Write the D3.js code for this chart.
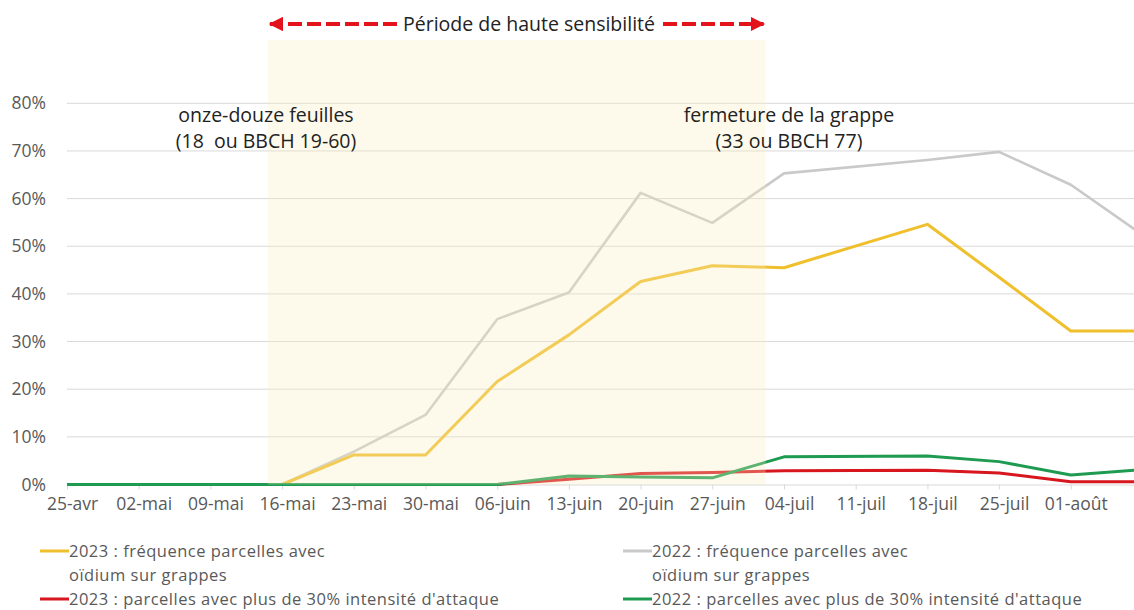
<!DOCTYPE html>
<html lang="fr">
<head>
<meta charset="UTF-8" />
<title>Oïdium sur grappes</title>
<script src="https://cdn.jsdelivr.net/npm/d3@7"></script>
<style>
    body { margin: 0; background: #fff; }
    svg { display: block; font-family: "Open Sans", Lato, sans-serif; }
</style>
</head>
<body>
<svg id="chart" width="1134" height="610"></svg>
<script>
    // dates de relevé (pas de relevé le 11-juil)
    const dates = ['2023-04-25', '2023-05-02', '2023-05-09', '2023-05-16', '2023-05-23', '2023-05-30',
        '2023-06-06', '2023-06-13', '2023-06-20', '2023-06-27', '2023-07-04', '2023-07-18',
        '2023-07-25', '2023-08-01', '2023-08-08'];
    const freq2023 = [0, 0, 0, 0, 6.2, 6.2, 21.6, 31.4, 42.6, 45.9, 45.5, 54.6, 43.5, 32.2, 32.2];
    const freq2022 = [0, 0, 0, 0, 6.9, 14.6, 34.7, 40.3, 61.2, 54.9, 65.3, 68.1, 69.8, 62.9, 52.4];
    const intens2023 = [0, 0, 0, 0, 0, 0, 0, 1.1, 2.3, 2.5, 2.9, 3.0, 2.4, 0.6, 0.6];
    const intens2022 = [0, 0, 0, 0, 0, 0, 0, 1.8, 1.6, 1.4, 5.8, 6.0, 4.8, 2.0, 3.1];

    const tickDates = ['2023-04-25', '2023-05-02', '2023-05-09', '2023-05-16', '2023-05-23', '2023-05-30',
        '2023-06-06', '2023-06-13', '2023-06-20', '2023-06-27', '2023-07-04', '2023-07-11',
        '2023-07-18', '2023-07-25', '2023-08-01'];
    const tickLabels = ['25-avr', '02-mai', '09-mai', '16-mai', '23-mai', '30-mai', '06-juin', '13-juin',
        '20-juin', '27-juin', '04-juil', '11-juil', '18-juil', '25-juil', '01-août'];
    const yTicks = [0, 10, 20, 30, 40, 50, 60, 70, 80];

    // période de haute sensibilité
    const sensStart = new Date(2023, 4, 14, 15);
    const sensEnd = new Date(2023, 6, 2, 5);

    const series = [
        { name: ['2022 : fréquence parcelles avec', 'oïdium sur grappes'], values: freq2022, color: '#c9c9c9', w: 2.6 },
        { name: ['2023 : fréquence parcelles avec', 'oïdium sur grappes'], values: freq2023, color: '#f0bf2c', w: 3 },
        { name: ["2023 : parcelles avec plus de 30% intensité d'attaque"], values: intens2023, color: '#d7161e', w: 3 },
        { name: ["2022 : parcelles avec plus de 30% intensité d'attaque"], values: intens2022, color: '#1e9b50', w: 3 }
    ];

    const width = 1134;
    const plotLeft = 67, plotTop = 103.3, plotBottom = 484.5;
    const parse = d3.timeParse('%Y-%m-%d');

    const x = d3.scaleTime()
        .domain([parse('2023-04-25'), parse('2023-08-08')])
        .range([plotLeft, plotLeft + 15 * 71.7]);
    const y = d3.scaleLinear().domain([0, 80]).range([plotBottom, plotTop]);

    const svg = d3.select('#chart');

    // grille
    svg.append('g')
        .selectAll('line')
        .data(yTicks.slice(1))
        .join('line')
        .attr('x1', plotLeft).attr('x2', width)
        .attr('y1', d => y(d)).attr('y2', d => y(d))
        .attr('stroke', '#d9d9d9').attr('stroke-width', 1);

    // axe y
    svg.append('g')
        .selectAll('text')
        .data(yTicks)
        .join('text')
        .attr('x', 46).attr('y', d => y(d))
        .attr('dy', '0.35em')
        .attr('text-anchor', 'end')
        .attr('fill', '#595959')
        .attr('font-size', 17.5)
        .text(d => d + '%');

    // axe x
    const xAxis = svg.append('g')
        .attr('transform', `translate(0,${plotBottom})`)
        .call(d3.axisBottom(x)
            .tickValues(tickDates.map(parse))
            .tickFormat((d, i) => tickLabels[i])
            .tickSize(5)
            .tickSizeOuter(0)
            .tickPadding(8));
    xAxis.select('.domain').attr('stroke', '#d9d9d9').attr('d', `M${plotLeft},0.5H${width}`);
    xAxis.selectAll('.tick line').attr('stroke', '#d9d9d9');
    xAxis.selectAll('.tick text')
        .attr('fill', '#595959')
        .attr('font-size', 17.5)
        .attr('font-family', '"Open Sans", Lato, sans-serif')
        .attr('dx', 5);

    // courbes
    const line = d3.line()
        .x((d, i) => x(parse(dates[i])))
        .y(d => y(d));

    svg.append('g')
        .selectAll('path')
        .data(series)
        .join('path')
        .attr('d', d => line(d.values))
        .attr('fill', 'none')
        .attr('stroke', d => d.color)
        .attr('stroke-width', d => d.w)
        .attr('stroke-linejoin', 'round');

    // zone de haute sensibilité (semi-transparente, par-dessus)
    svg.append('rect')
        .attr('x', x(sensStart))
        .attr('y', 40)
        .attr('width', x(sensEnd) - x(sensStart))
        .attr('height', plotBottom - 40)
        .attr('fill', 'rgb(250,236,190)')
        .attr('fill-opacity', 0.3);

    // titre + flèches
    const arrowY = 24;
    svg.append('defs').html(`
        <marker id="ah" viewBox="0 0 10 10" refX="9" refY="5" markerWidth="3.6" markerHeight="3.6" orient="auto-start-reverse">
            <path d="M0,0L10,5L0,10z" fill="#e3131b"></path>
        </marker>`);
    svg.append('text')
        .attr('x', 529).attr('y', arrowY)
        .attr('dy', '0.35em')
        .attr('text-anchor', 'middle')
        .attr('fill', '#222')
        .attr('font-size', 19.5)
        .text('Période de haute sensibilité');
    [[397, x(sensStart) + 2], [663, x(sensEnd) - 2]].forEach(([a, b]) => {
        svg.append('line')
            .attr('x1', a).attr('x2', b)
            .attr('y1', arrowY).attr('y2', arrowY)
            .attr('stroke', '#e3131b')
            .attr('stroke-width', 4)
            .attr('stroke-dasharray', '14,5')
            .attr('marker-end', 'url(#ah)');
    });

    // stades phénologiques
    const notes = [
        { cx: 266, lines: ['onze-douze feuilles', '(18  ou BBCH 19-60)'] },
        { cx: 789, lines: ['fermeture de la grappe', '(33 ou BBCH 77)'] }
    ];
    notes.forEach(n => {
        svg.append('text')
            .attr('text-anchor', 'middle')
            .attr('fill', '#222')
            .attr('font-size', 19.5)
            .attr('xml:space', 'preserve')
            .selectAll('tspan')
            .data(n.lines)
            .join('tspan')
            .attr('x', n.cx)
            .attr('y', (d, i) => 115 + i * 26)
            .attr('dy', '0.35em')
            .text(d => d);
    });

    // légende
    const legendPos = [
        { s: 1, x: 40, y: 551 },
        { s: 0, x: 623, y: 551 },
        { s: 2, x: 40, y: 599 },
        { s: 3, x: 623, y: 599 }
    ];
    const lg = svg.append('g').selectAll('g')
        .data(legendPos)
        .join('g')
        .attr('transform', d => `translate(${d.x},${d.y})`);
    lg.append('line')
        .attr('x1', 0).attr('x2', 29)
        .attr('stroke', d => series[d.s].color)
        .attr('stroke-width', 3);
    lg.append('text')
        .attr('fill', '#595959')
        .attr('font-size', 16.5)
        .attr('letter-spacing', 0.5)
        .selectAll('tspan')
        .data(d => series[d.s].name)
        .join('tspan')
        .attr('x', 29)
        .attr('y', (d, i) => i * 24)
        .attr('dy', '0.35em')
        .text(d => d);
</script>
</body>
</html>
